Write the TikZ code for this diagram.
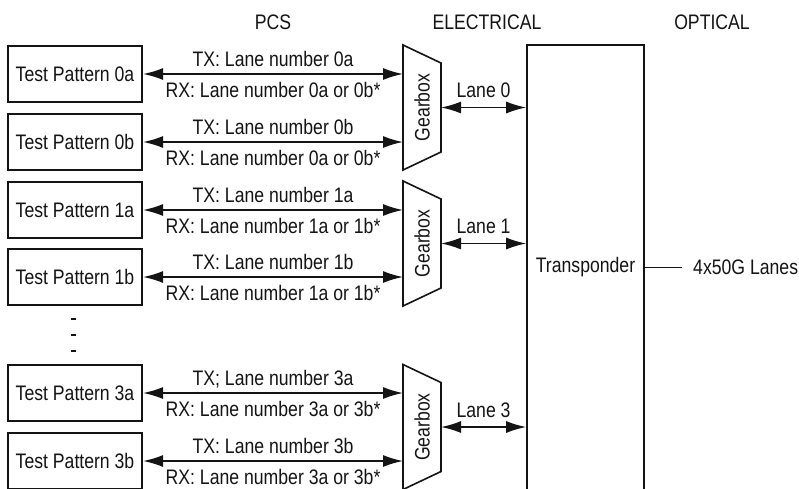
\documentclass[tikz,border=0pt]{standalone}
\usepackage{fontspec}
\setmainfont{Liberation Sans}[FakeStretch=0.84]
\usetikzlibrary{arrows.meta}
\definecolor{ink}{HTML}{141414}

\tikzset{
  pattbox/.style={draw=ink,line width=1.6pt,minimum width=134.5pt,
    minimum height=56.5pt,inner sep=0pt},
  gearline/.style={draw=ink,line width=1.6pt,line join=miter},
  lane/.style={<->,line width=1.6pt,draw=ink},
  lbl/.style={inner sep=0pt,text height=15pt,text depth=0pt}
}

\begin{document}
\begin{tikzpicture}[x=1pt,y=-1pt,font=\fontsize{21}{25}\selectfont,text=ink,
    >={Latex[length=20pt,width=12pt]}]
  \useasboundingbox (0,0) rectangle (799,488);

  \node[anchor=base] (hpcs) at (273,29) {PCS};
  \node[anchor=base] (helec) at (487,29) {ELECTRICAL};
  \node[anchor=base] (hopt) at (712,29) {OPTICAL};

  \node[draw=ink,line width=1.6pt,minimum width=117pt,minimum height=445pt,
    inner sep=0pt] (trans) at (585.5,267.5) {Transponder};
  \node[anchor=west,inner xsep=11pt,inner ysep=0pt] (optl) at (682,267.5)
    {4x50G Lanes};
  \draw[line width=1.6pt,ink] (trans.east) -- (trans.east -| optl.west);

  \foreach \g/\y in {0/107.5,1/243.5,3/427}{
    \draw[gearline] (403,\y-62.5) -- (441,\y-44.5) -- (441,\y+44.5)
      -- (403,\y+62.5) -- cycle;
    \coordinate (gbw\g) at (403,\y);
    \coordinate (gbe\g) at (441,\y);
    \node[rotate=90,inner sep=0pt] (gb\g) at (422,\y) {Gearbox};
    \draw[lane] (gbe\g) -- (gbe\g -| trans.west)
      node[midway,above=9pt,lbl] {Lane \g};
  }

  \foreach \n/\g/\y/\tx/\rx in {
      0a/0/74/{TX: Lane number 0a}/{RX: Lane number 0a or 0b*},
      0b/0/142/{TX: Lane number 0b}/{RX: Lane number 0a or 0b*},
      1a/1/210/{TX: Lane number 1a}/{RX: Lane number 1a or 1b*},
      1b/1/277/{TX: Lane number 1b}/{RX: Lane number 1a or 1b*},
      3a/3/393/{TX; Lane number 3a}/{RX: Lane number 3a or 3b*},
      3b/3/461/{TX: Lane number 3b}/{RX: Lane number 3a or 3b*}}{
    \node[pattbox] (tp\n) at (75,\y) {Test Pattern \n};
    \draw[lane] (tp\n.east) -- (tp\n.east -| gbw\g)
      node[midway,above=6.5pt,lbl] {\tx}
      node[midway,below=7.5pt,lbl] {\rx};
  }

  \foreach \y in {319,335,351}
    \fill[ink] (71,\y-1.4) rectangle (76,\y+1.4);
\end{tikzpicture}
\end{document}
